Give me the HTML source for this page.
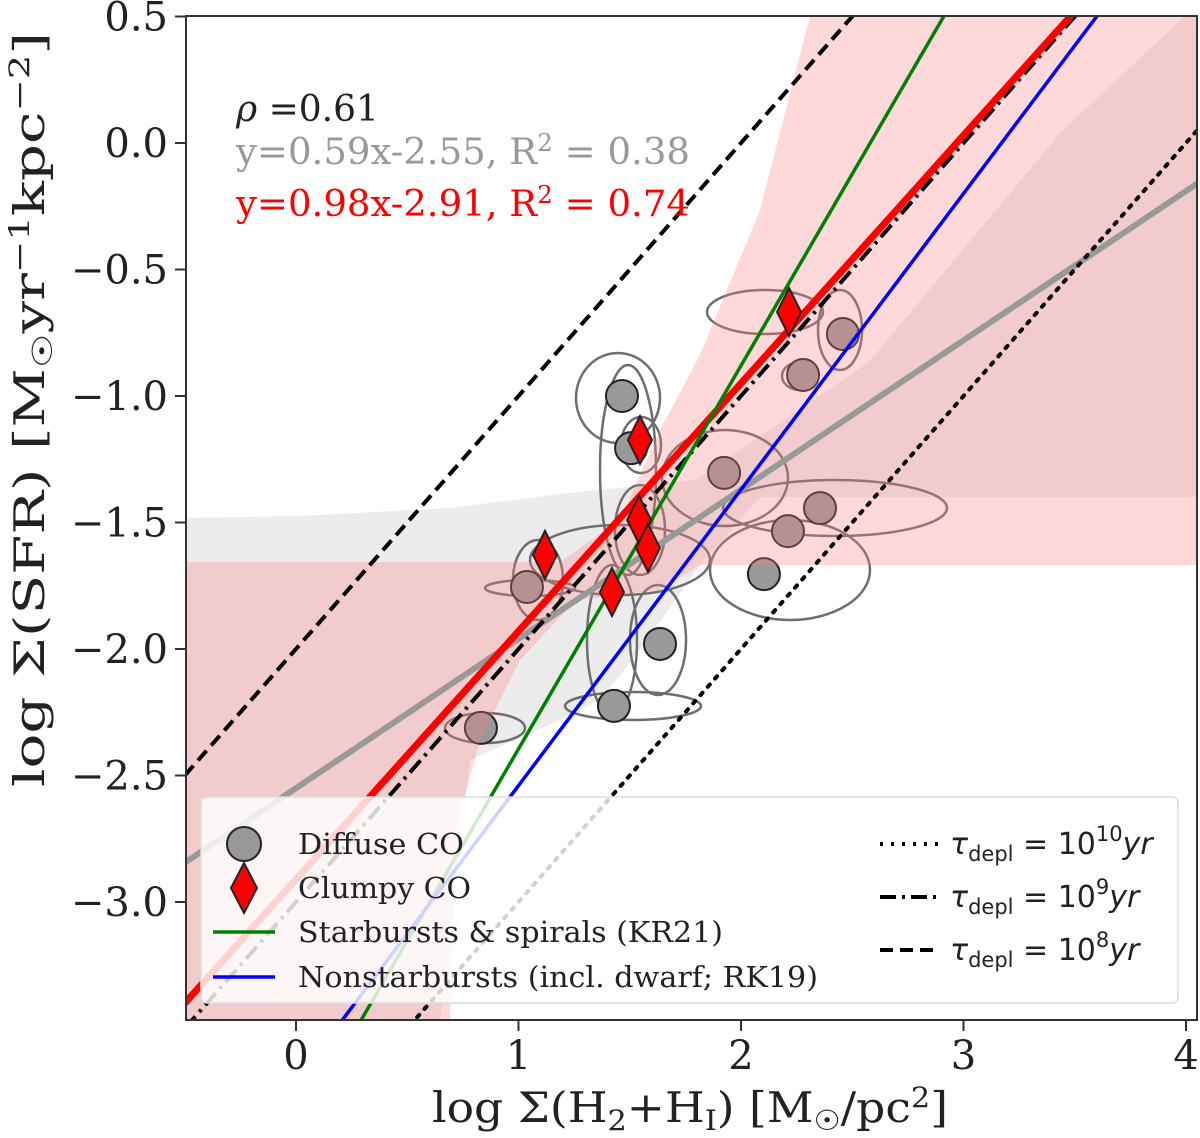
<!DOCTYPE html>
<html><head><meta charset="utf-8"><style>
html,body{margin:0;padding:0;background:#fff;overflow:hidden;width:1200px;height:1138px;}
svg{display:block;font-family:"DejaVu Serif","Liberation Serif",serif;overflow:hidden;}
</style></head><body>
<svg id="chart" width="1200" height="1138" viewBox="0 0 1200 1138" xmlns="http://www.w3.org/2000/svg">
<defs><clipPath id="plotclip"><rect x="186" y="16" width="1011" height="1004"/></clipPath></defs>
<g id="plot" clip-path="url(#plotclip)"></g>
<g id="axes"></g>
</svg>
<script>
// ---- data ----
const xTicks = [0, 1, 2, 3, 4];
const xTickLabels = ["0", "1", "2", "3", "4"];
const yTicks = [0.5, 0.0, -0.5, -1.0, -1.5, -2.0, -2.5, -3.0];
const yTickLabels = ["0.5", "0.0", "\u22120.5", "\u22121.0", "\u22121.5", "\u22122.0", "\u22122.5", "\u22123.0"];
const diffuseX = [1.465, 1.506, 2.458, 2.279, 1.924, 2.355, 2.211, 2.103, 1.038, 1.636, 1.429, 0.831];
const diffuseY = [-1.00, -1.206, -0.755, -0.917, -1.304, -1.443, -1.534, -1.704, -1.755, -1.980, -2.225, -2.312];
const clumpyX = [2.216, 1.546, 1.542, 1.582, 1.119, 1.420];
const clumpyY = [-0.668, -1.174, -1.490, -1.601, -1.628, -1.775];
const redFit = [0.98, -2.91];
const grayFit = [0.59, -2.55];
const kr21 = [1.515, -3.91];
const rk19 = [1.17, -3.71];
const deplOffsets = [-4, -3, -2];

const X0 = 296, XS = 222.5, Y0 = 143, YS = 253;
const sx = v => X0 + v * XS;
const sy = v => Y0 - v * YS;
const NS = "http://www.w3.org/2000/svg";
const plot = document.getElementById('plot');
const axes = document.getElementById('axes');
function mk(tag, attrs, parent) {
  const e = document.createElementNS(NS, tag);
  for (const k in attrs) e.setAttribute(k, attrs[k]);
  parent.appendChild(e); return e;
}
const XMIN = -0.5, XMAX = 4.1;

// gray confidence band
let g = mk('polygon', {points: "186,518 300,516 450,508 560,494 696,480 869,362 1062,131 1185,16 1197,16 1197,497 760,497 700,565 640,650 600,700 560,720 470,760 440,1020 186,1020", fill: "#ececec"}, plot);



// error ellipses
const ells = [[618,398,42,45],[628,470,28,105],[641,445,20,28],[725,478,63,48],[765,312,58,22],[840,330,22,40],[800,376,18,14],[835,508,112,28],[790,570,80,50],[538,580,25,40],[530,588,45,8],[640,530,25,45],[620,560,90,35],[612,640,25,75],[658,640,28,55],[633,706,68,14],[485,728,40,15]];
ells.forEach(e => {
  const el = mk('ellipse', {cx:e[0], cy:e[1], rx:e[2], ry:e[3], fill:"none", stroke:"#6e6e6e", "stroke-width":2.5}, plot);
  
  
});
// diffuse points
diffuseX.forEach((x, i) => {
  const c = mk('circle', {cx: sx(x), cy: sy(diffuseY[i]), r: 16, fill: "#999", stroke: "#222", "stroke-width": 2}, plot);
  
  
});
// pink band
let p = mk('polygon', {points: "186,562 560,562 620,520 660,430 700,355 760,210 810,16 1197,16 1197,565 700,565 660,590 576,600 520,660 480,740 458,820 450,1020 186,1020", fill: "rgba(255,128,128,0.3)"}, plot);



function line(fit, attrs, name) {
  const l = mk('line', Object.assign({x1: sx(XMIN), y1: sy(fit[0]*XMIN+fit[1]), x2: sx(XMAX), y2: sy(fit[0]*XMAX+fit[1])}, attrs), plot);
  
  
}
line(grayFit, {stroke: "#999", "stroke-width": 6}, 'gray-fit-line');
line([1, deplOffsets[0]], {stroke: "#000", "stroke-width": 4, "stroke-dasharray": "3 8", "stroke-linecap":"round"}, 'depl-1e10-line');
line([1, deplOffsets[1]], {stroke: "#000", "stroke-width": 4, "stroke-dasharray": "16 6 3 6"}, 'depl-1e9-line');
line([1, deplOffsets[2]], {stroke: "#000", "stroke-width": 4, "stroke-dasharray": "13 7"}, 'depl-1e8-line');
line(redFit, {stroke: "#f00", "stroke-width": 7}, 'red-fit-line');
line(kr21, {stroke: "#008000", "stroke-width": 3.5}, 'kr21-line');
line(rk19, {stroke: "#00f", "stroke-width": 3.5}, 'rk19-line');

clumpyX.forEach((x, i) => {
  const cx = sx(x), cy = sy(clumpyY[i]);
  const d = mk('polygon', {points: `${cx},${cy-24} ${cx+12},${cy} ${cx},${cy+24} ${cx-12},${cy}`, fill: "#f00", stroke: "#222", "stroke-width": 2}, plot);
  
  
});

// legend
const lg = mk('g', {}, plot);


mk('rect', {x: 201, y: 797, width: 977, height: 206, rx: 6, fill: "rgba(255,255,255,0.82)", stroke: "#ddd", "stroke-width": 1.5}, lg);
function ltext(x, y, s, name, len) {
  const t = mk('text', {x: x, y: y, "font-size": 29, fill: "#222", textLength: len, lengthAdjust: "spacingAndGlyphs"}, lg);
  t.textContent = s;
  
  
  return t;
}
mk('circle', {cx: 244, cy: 844, r: 17, fill: "#999", stroke: "#222", "stroke-width": 2}, lg);
ltext(298, 854, "Diffuse CO", 'legend-diffuse-co', 166);
mk('polygon', {points: "244,863 257,888 244,913 231,888", fill: "#f00", stroke: "#222", "stroke-width": 2}, lg);
ltext(298, 898, "Clumpy CO", 'legend-clumpy-co', 173);
mk('line', {x1: 213, y1: 932, x2: 275, y2: 932, stroke: "#008000", "stroke-width": 3.5}, lg);
ltext(298, 942, "Starbursts & spirals (KR21)", 'legend-kr21', 425);
mk('line', {x1: 213, y1: 977, x2: 275, y2: 977, stroke: "#00f", "stroke-width": 3.5}, lg);
ltext(298, 987, "Nonstarbursts (incl. dwarf; RK19)", 'legend-rk19', 520);
const dashes = ["3 8", "16 6 3 6", "13 7"];
const exps = ["10", "9", "8"];
[0,1,2].forEach(i => {
  const y = 844 + i * 53;
  mk('line', {x1: 880, y1: y, x2: 938, y2: y, stroke: "#000", "stroke-width": 4, "stroke-dasharray": dashes[i]}, lg);
  const t = mk('text', {x: 950, y: y + 10, "font-size": 30, fill: "#222", "font-family": "DejaVu Sans, sans-serif"}, lg);
  
  
  t.innerHTML = `<tspan font-style="italic">τ</tspan><tspan font-size="21" dy="7">depl</tspan><tspan dy="-7"> = 10</tspan><tspan font-size="21" dy="-13">${exps[i]}</tspan><tspan dy="13" font-style="italic">yr</tspan>`;
});

// annotations
function ann(y, fill, html, name, len) {
  const t = mk('text', {x: 236, y: y, "font-size": 36, fill: fill}, plot);
  if (len) { t.setAttribute('textLength', len); t.setAttribute('lengthAdjust', 'spacingAndGlyphs'); }
  t.innerHTML = html;
  
  
}
ann(121, "#222", '<tspan font-style="italic">ρ</tspan> =0.61', 'rho-annotation');
ann(164, "#999", 'y=0.59x-2.55, R<tspan font-size="24" dy="-13">2</tspan><tspan dy="13"> = 0.38</tspan>', 'gray-fit-annotation', 454);
ann(216, "#f00", 'y=0.98x-2.91, R<tspan font-size="24" dy="-13">2</tspan><tspan dy="13"> = 0.74</tspan>', 'red-fit-annotation', 454);

// axes frame
const fr = mk('rect', {x: 186, y: 16, width: 1011, height: 1004, fill: "none", stroke: "#333", "stroke-width": 2}, axes);


xTicks.forEach((v, i) => {
  mk('line', {x1: sx(v), y1: 1020, x2: sx(v), y2: 1031, stroke: "#333", "stroke-width": 2}, axes);
  const t = mk('text', {x: sx(v), y: 1069, "font-size": 40, fill: "#222", "text-anchor": "middle"}, axes);
  t.textContent = xTickLabels[i];
  
  
});
yTicks.forEach((v, i) => {
  mk('line', {x1: 175, y1: sy(v), x2: 186, y2: sy(v), stroke: "#333", "stroke-width": 2}, axes);
  const t = mk('text', {x: 168, y: sy(v) + 14, "font-size": 40, fill: "#222", "text-anchor": "end"}, axes);
  t.textContent = yTickLabels[i];
  
  
});
const xl = mk('text', {x: 432, y: 1122, "font-size": 42, fill: "#222", textLength: 516, lengthAdjust: "spacingAndGlyphs"}, axes);
xl.innerHTML = 'log Σ(H<tspan font-size="28" dy="8">2</tspan><tspan dy="-8">+H</tspan><tspan font-size="28" dy="8">I</tspan><tspan dy="-8">) [M</tspan><tspan font-size="28" dy="8">☉</tspan><tspan dy="-8">/pc</tspan><tspan font-size="28" dy="-15">2</tspan><tspan dy="15">]</tspan>';


const yl = mk('text', {x: 0, y: 0, "font-size": 42, fill: "#222", textLength: 755, lengthAdjust: "spacingAndGlyphs", transform: "translate(44,787) rotate(-90)"}, axes);
yl.innerHTML = 'log Σ(SFR) [M<tspan font-size="28" dy="8">☉</tspan><tspan dy="-8">yr</tspan><tspan font-size="28" dy="-15">−1</tspan><tspan dy="15">kpc</tspan><tspan font-size="28" dy="-15">−2</tspan><tspan dy="15">]</tspan>';


</script>
</body></html>
